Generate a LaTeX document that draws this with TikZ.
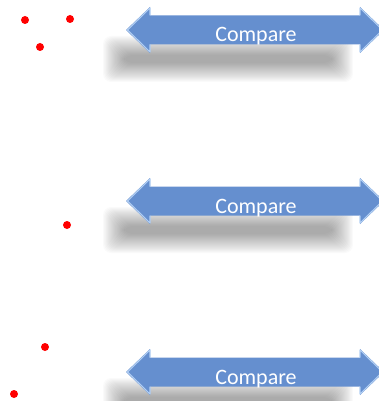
\documentclass[tikz,border=0pt]{standalone}
\usepackage{fontspec}
\newfontfamily\carlito{Carlito}
\begin{document}
\begin{tikzpicture}[x=1pt,y=-1pt,
  dot/.style={circle,fill=red,inner sep=0pt,minimum size=8pt},
  arrowbody/.style={fill=arrowblue,draw=none},
  headedge/.style={draw=arrowlight,line width=1.1pt,line join=round},
  label/.style={font=\carlito\fontsize{22}{22}\selectfont,text=white,inner sep=0pt,anchor=base}]
\definecolor{arrowblue}{RGB}{101,143,207}
\definecolor{arrowlight}{RGB}{178,207,243}
\useasboundingbox (0,0) rectangle (379,401);

% red points
\node[dot] (p1) at (25,20) {};
\node[dot] (p2) at (70,19) {};
\node[dot] (p3) at (40,47) {};
\node[dot] (p4) at (67,225) {};
\node[dot] (p5) at (45,347) {};
\node[dot] (p6) at (14,394) {};

% three double-headed "Compare" arrows
\foreach \cy/\nm in {30/cmp1,201/cmp2,372/cmp3}{
  % soft drop shadow, built from stacked translucent layers
  \foreach \k in {0,...,19}{
    \fill[black,opacity=0.02,rounded corners=8pt]
      ({124-1.1*\k},{\cy+25-1.0*\k}) rectangle ({332+1.1*\k},{\cy+33+1.0*\k});
  }
  % arrow body
  \fill[arrowbody] (126,\cy) -- (150,\cy-23) -- (150,\cy-14.5) -- (360,\cy-14.5)
    -- (360,\cy-23) -- (384,\cy) -- (360,\cy+23) -- (360,\cy+14.5)
    -- (150,\cy+14.5) -- (150,\cy+23) -- cycle;
  % bevelled head highlights
  \draw[headedge] (150,\cy-14.5) -- (150,\cy-22) -- (127.5,\cy) -- (150,\cy+22) -- (150,\cy+14.5);
  \draw[headedge] (360,\cy-14.5) -- (360,\cy-22) -- (382.5,\cy) -- (360,\cy+22) -- (360,\cy+14.5);
  \node[label] (\nm) at (256,\cy+12) {Compare};
}
\end{tikzpicture}
\end{document}
